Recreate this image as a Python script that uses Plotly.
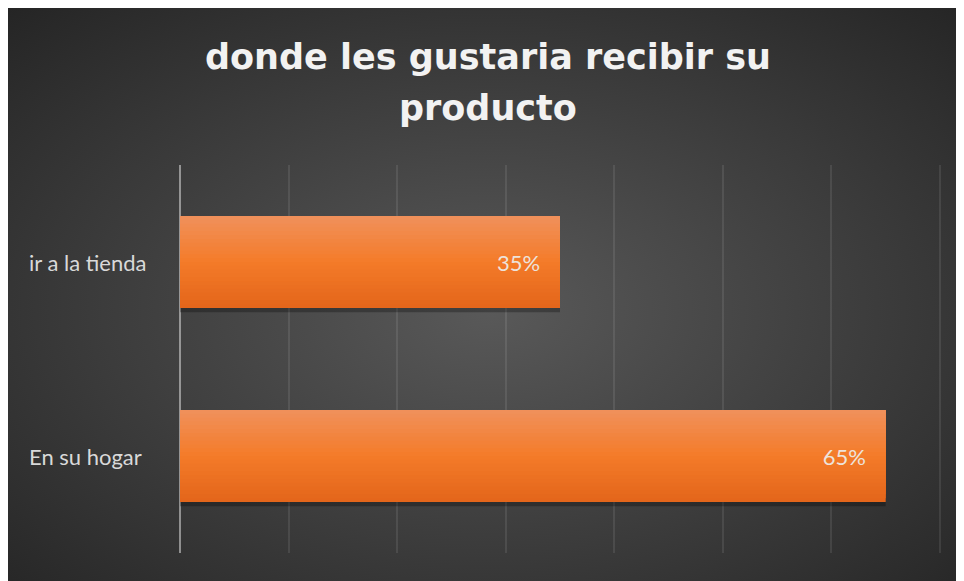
import plotly.graph_objects as go
import urllib.parse

# Data
categories = ["En su hogar", "ir a la tienda"]
values = [0.65, 0.35]
value_labels = ["65%", "35%"]
title_lines = ["donde les gustaria recibir su", "producto"]

W, H = 964, 581
L, R, T, B = 172, 28, 157, 36
pw, ph = W - L - R, H - T - B
xmax = 0.7 * pw / 760.0

svg = (
    "<svg xmlns='http://www.w3.org/2000/svg' width='964' height='581' preserveAspectRatio='none'>"
    "<defs><radialGradient id='g' cx='50%' cy='52%' r='72%'>"
    "<stop offset='0%' stop-color='#595959'/>"
    "<stop offset='100%' stop-color='#252525'/>"
    "</radialGradient></defs>"
    "<rect width='964' height='581' fill='url(#g)'/></svg>"
)
src = "data:image/svg+xml;charset=utf-8," + urllib.parse.quote(svg)


def lerp(c1, c2, t):
    a = [int(c1[i:i + 2], 16) for i in (1, 3, 5)]
    b = [int(c2[i:i + 2], 16) for i in (1, 3, 5)]
    return "rgb(%d,%d,%d)" % tuple(round(a[k] + (b[k] - a[k]) * t) for k in range(3))


fig = go.Figure()
bw = 0.474
# soft shadow under the bars
fig.add_trace(go.Bar(
    y=categories, x=values, orientation="h", width=0.03, offset=-bw / 2 - 0.022,
    marker=dict(color="rgba(0,0,0,0.28)", line=dict(width=0)), hoverinfo="skip",
))
# vertical gradient: stacked overlapping bands of the same bars
N = 24
top, mid, bot = "#F0915C", "#F47B29", "#E3651A"
for i in range(N):
    t = (i + 0.5) / N  # 0 bottom -> 1 top
    col = lerp(bot, mid, t / 0.5) if t < 0.5 else lerp(mid, top, (t - 0.5) / 0.5)
    fig.add_trace(go.Bar(
        y=categories, x=values, orientation="h",
        width=bw - i * bw / N, offset=-bw / 2 + i * bw / N,
        marker=dict(color=col, line=dict(width=0)), hoverinfo="skip",
    ))
# value labels
fig.add_trace(go.Bar(
    y=categories, x=values, orientation="h", width=bw, offset=-bw / 2,
    marker=dict(color="rgba(0,0,0,0)", line=dict(width=0)),
    text=value_labels, texttemplate="%{text}\u00a0\u00a0\u00a0",
    textposition="inside", insidetextanchor="end",
    textfont=dict(family="Lato", size=22, color="#EDE3DB"),
    hoverinfo="skip",
))

for c in categories:
    fig.add_annotation(
        x=(19 - L) / pw, xref="paper", y=c, yref="y",
        text=c, showarrow=False, xanchor="left",
        font=dict(family="Lato", size=22, color="#D9D9D9"),
    )

for k, line in enumerate(title_lines):
    fig.add_annotation(
        x=(480 - L) / pw, xref="paper", y=(H - B - 27 - 51 * k) / ph, yref="paper",
        text=line, showarrow=False, xanchor="center", yanchor="top",
        font=dict(family="DejaVu Sans", size=35, color="#F2F2F2", weight="bold"),
    )

fig.update_layout(
    width=W, height=H,
    margin=dict(l=L, r=R, t=T, b=B),
    paper_bgcolor="#2a2a2a",
    plot_bgcolor="rgba(0,0,0,0)",
    barmode="overlay",
    bargap=0.525,
    showlegend=False,
    xaxis=dict(
        range=[0, xmax], dtick=0.1, showticklabels=False,
        showgrid=True, gridcolor="rgba(255,255,255,0.09)", gridwidth=2,
        zeroline=True, zerolinecolor="rgba(255,255,255,0.45)", zerolinewidth=2,
        showline=False, fixedrange=True,
    ),
    yaxis=dict(showticklabels=False, showgrid=False, zeroline=False, showline=False,
               range=[-0.5, 1.5]),
    images=[dict(
        source=src, xref="paper", yref="paper",
        x=-L / pw, y=(H - B) / ph,
        sizex=W / pw, sizey=H / ph,
        xanchor="left", yanchor="top", sizing="stretch", layer="below",
    )],
)

fig.write_html("out.html")
